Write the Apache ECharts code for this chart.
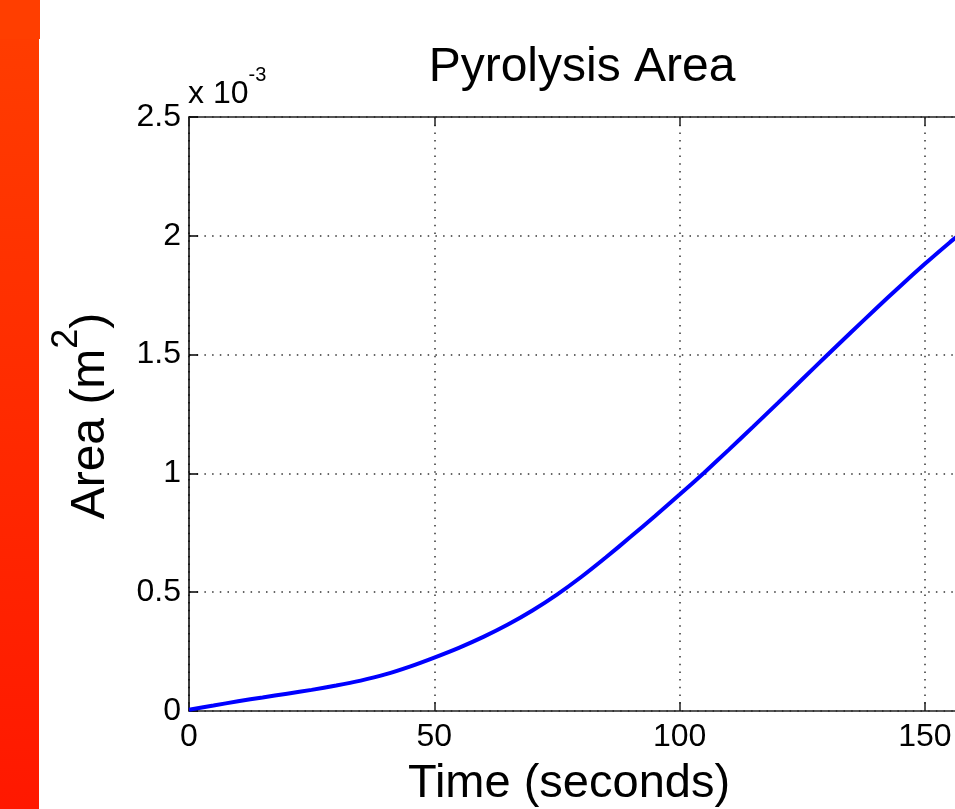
<!DOCTYPE html>
<html>
<head>
<meta charset="utf-8">
<title>Pyrolysis Area</title>
<script src="https://cdn.jsdelivr.net/npm/echarts@6/dist/echarts.min.js"></script>
<style>
	html, body {
		margin: 0;
		padding: 0;
		background: #fff;
	}

	#chart {
		width: 955px;
		height: 809px;
	}
</style>
</head>
<body>
<div id="chart"></div>
<script>
// time in seconds, area in units of 1e-3 m^2
const timeSec = [0, 5, 10, 15, 20, 25, 30, 35, 40, 45, 50, 55, 60, 65, 70, 75, 80,
	85, 90, 95, 100, 105, 110, 115, 120, 125, 130, 135, 140, 145, 150, 155, 160];
const areaE3 = [0.005, 0.023, 0.041, 0.057, 0.073, 0.089, 0.107, 0.128, 0.154, 0.187, 0.225, 0.266, 0.312, 0.364, 0.423, 0.490, 0.565,
	0.647, 0.733, 0.821, 0.911, 1.003, 1.099, 1.197, 1.296, 1.396, 1.496, 1.595, 1.693, 1.789, 1.882, 1.971, 2.055];
const xLimits = [0, 160];
const yLimits = [0, 2.5];
const xStep = 50;
const yStep = 0.5;

const FONT = "'Liberation Sans', Arial, sans-serif";

const chartDom = document.getElementById("chart");
const myChart = echarts.init(chartDom);

const dotted = {
	color: "#333",
	width: 1.5,
	type: [1.5, 6.2]
};

const option = {
	animation: false,
	backgroundColor: "#fff",
	grid: {
		left: 189,
		top: 117,
		width: 785,
		height: 594,
		containLabel: false,
		outerBoundsMode: "none"
	},
	xAxis: [{
		type: "value",
		min: xLimits[0],
		max: xLimits[1],
		interval: xStep,
		axisLine: {lineStyle: {color: "#222", width: 1.5}},
		axisTick: {inside: true, length: 9, lineStyle: {color: "#222", width: 1.5}},
		axisLabel: {
			color: "#000",
			fontFamily: FONT,
			fontSize: 32,
			margin: 10,
			showMaxLabel: false
		},
		splitLine: {show: true, lineStyle: dotted}
	}, {
		type: "value",
		position: "top",
		min: xLimits[0],
		max: xLimits[1],
		interval: xStep,
		axisLine: {show: true, lineStyle: {color: "#222", width: 1.5}},
		axisTick: {show: true, inside: true, length: 9, lineStyle: {color: "#222", width: 1.5}},
		axisLabel: {show: false},
		splitLine: {show: false}
	}],
	yAxis: {
		type: "value",
		min: yLimits[0],
		max: yLimits[1],
		interval: yStep,
		axisLine: {show: true, lineStyle: {color: "#000", width: 1.5}},
		axisTick: {show: true, inside: true, length: 9, lineStyle: {color: "#000", width: 1.5}},
		axisLabel: {
			color: "#000",
			fontFamily: FONT,
			fontSize: 32,
			margin: 8
		},
		splitLine: {show: true, lineStyle: dotted}
	},
	series: [{
		type: "line",
		xAxisIndex: 0,
		data: timeSec.map((t, i) => [t, areaE3[i]]),
		showSymbol: false,
		smooth: 0.2,
		lineStyle: {color: "#0000ff", width: 4},
		itemStyle: {color: "#0000ff"}
	}],
	graphic: [{
		type: "rect",
		shape: {x: 0, y: 0, width: 39, height: 809},
		style: {
			fill: new echarts.graphic.LinearGradient(0, 0, 0, 1, [
				{offset: 0, color: "#ff3e00"},
				{offset: 1, color: "#ff1800"}
			])
		}
	}, {
		type: "rect",
		shape: {x: 0, y: 0, width: 40, height: 39},
		style: {fill: "#ff3e00"}
	}, {
		type: "text",
		x: 582,
		y: 68,
		style: {
			text: "Pyrolysis Area",
			fontFamily: FONT,
			fontSize: 48,
			fill: "#000",
			align: "center",
			verticalAlign: "middle",
			textAlign: "center",
			textVerticalAlign: "middle"
		}
	}, {
		type: "text",
		x: 569,
		y: 784,
		style: {
			text: "Time (seconds)",
			fontFamily: FONT,
			fontSize: 47,
			fill: "#000",
			align: "center",
			verticalAlign: "middle",
			textAlign: "center",
			textVerticalAlign: "middle"
		}
	}, {
		type: "text",
		x: 115,
		y: 416,
		rotation: Math.PI / 2,
		style: {
			text: "{a|Area (m}{s|2}{a|)}",
			fill: "#000",
			align: "center",
			verticalAlign: "bottom",
			textAlign: "center",
			textVerticalAlign: "bottom",
			rich: {
				a: {fontFamily: FONT, fontSize: 48, lineHeight: 48, verticalAlign: "bottom", fill: "#000"},
				s: {fontFamily: FONT, fontSize: 36, lineHeight: 36, padding: [0, 0, 30, 0], verticalAlign: "bottom", fill: "#000"}
			}
		}
	}, {
		type: "text",
		x: 188,
		y: 110,
		style: {
			text: "{a|x 10}{s|-3}",
			fill: "#000",
			align: "left",
			verticalAlign: "bottom",
			textAlign: "left",
			textVerticalAlign: "bottom",
			rich: {
				a: {fontFamily: FONT, fontSize: 32, lineHeight: 32, verticalAlign: "bottom", fill: "#000"},
				s: {fontFamily: FONT, fontSize: 20, lineHeight: 20, padding: [0, 0, 25, 0], verticalAlign: "bottom", fill: "#000"}
			}
		}
	}]
};

option && myChart.setOption(option);
</script>
</body>
</html>
